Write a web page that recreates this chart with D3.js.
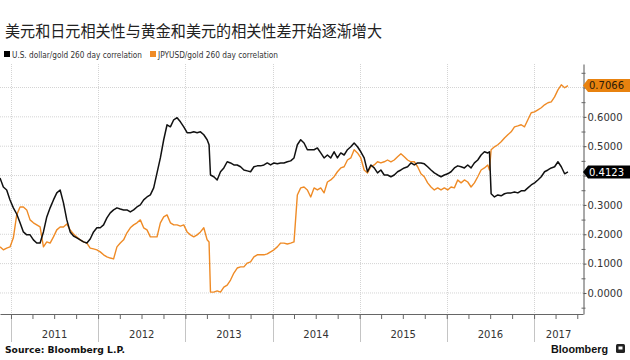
<!DOCTYPE html>
<html><head><meta charset="utf-8">
<script src="https://cdn.jsdelivr.net/npm/d3@7"></script>
<style>body{margin:0;background:#fff}svg{display:block}</style>
</head><body><svg id="c" width="630" height="360"></svg>
<script>
const chartTitle = "美元和日元相关性与黄金和美元的相关性差开始逐渐增大";
const seriesNames = ["U.S. dollar/gold 260 day correlation", "JPYUSD/gold 260 day correlation"];
const sourceText = "Source: Bloomberg L.P.";
const brandText = "Bloomberg";
const yTicks = [0, 0.1, 0.2, 0.3, 0.4, 0.5, 0.6, 0.7];
const yMinorTicks = [-0.05, 0.05, 0.15, 0.25, 0.35, 0.45, 0.55, 0.65, 0.75];
const yearLabels = ["2011", "2012", "2013", "2014", "2015", "2016", "2017"];
const xRange = ["2010-11-16", "2017-07-25"];
const yRange = [-0.0716, 0.78];

const dates = [
"2010-11-16","2010-11-30","2010-12-14","2010-12-28",
"2011-01-11","2011-01-25","2011-02-08","2011-02-22","2011-03-08","2011-03-22","2011-04-05","2011-04-19","2011-05-03","2011-05-17","2011-05-31","2011-06-14","2011-06-28","2011-07-12","2011-07-26","2011-08-09","2011-08-23","2011-09-06","2011-09-20","2011-10-04","2011-10-18","2011-11-01","2011-11-15","2011-11-29","2011-12-13","2011-12-27",
"2012-01-10","2012-01-24","2012-02-07","2012-02-21","2012-03-06","2012-03-20","2012-04-03","2012-04-17","2012-05-01","2012-05-15","2012-05-29","2012-06-12","2012-06-26","2012-07-10","2012-07-24","2012-08-07","2012-08-21","2012-09-04","2012-09-18","2012-10-02","2012-10-16","2012-10-30","2012-11-13","2012-11-27","2012-12-11","2012-12-25",
"2013-01-08","2013-01-22","2013-02-05","2013-02-19","2013-03-05","2013-03-19","2013-04-02","2013-04-10","2013-04-16","2013-04-30","2013-05-14","2013-05-28","2013-06-11","2013-06-25","2013-07-09","2013-07-23","2013-08-06","2013-08-20","2013-09-03","2013-09-17","2013-10-01","2013-10-15","2013-10-29","2013-11-12","2013-11-26","2013-12-10","2013-12-24",
"2014-01-07","2014-01-21","2014-02-04","2014-02-18","2014-03-04","2014-03-18","2014-04-01","2014-04-15","2014-04-29","2014-05-13","2014-05-27","2014-06-10","2014-06-24","2014-07-08","2014-07-22","2014-08-05","2014-08-19","2014-09-02","2014-09-16","2014-09-30","2014-10-14","2014-10-28","2014-11-11","2014-11-25","2014-12-09","2014-12-23",
"2015-01-06","2015-01-20","2015-02-03","2015-02-17","2015-03-03","2015-03-17","2015-03-31","2015-04-14","2015-04-28","2015-05-12","2015-05-26","2015-06-09","2015-06-23","2015-07-07","2015-07-21","2015-08-04","2015-08-18","2015-09-01","2015-09-15","2015-09-29","2015-10-13","2015-10-27","2015-11-10","2015-11-24","2015-12-08","2015-12-22",
"2016-01-05","2016-01-19","2016-02-02","2016-02-16","2016-03-01","2016-03-15","2016-03-29","2016-04-12","2016-04-26","2016-05-10","2016-05-24","2016-06-07","2016-06-21","2016-06-28","2016-07-05","2016-07-19","2016-08-02","2016-08-16","2016-08-30","2016-09-13","2016-09-27","2016-10-11","2016-10-25","2016-11-08","2016-11-22","2016-12-06","2016-12-20",
"2017-01-03","2017-01-17","2017-01-31","2017-02-14","2017-02-28","2017-03-14","2017-03-28","2017-04-11","2017-04-25","2017-05-09","2017-05-23"
];

const usdGold = [
0.392,0.361,0.351,0.317,
0.290,0.269,0.239,0.208,0.198,0.198,0.181,0.170,0.170,0.208,0.259,0.290,0.317,0.341,0.351,0.307,0.249,0.208,0.194,0.188,0.181,0.174,0.170,0.184,0.208,0.222,
0.222,0.232,0.256,0.273,0.283,0.290,0.286,0.283,0.283,0.276,0.283,0.293,0.300,0.317,0.327,0.334,0.358,0.409,0.460,0.522,0.573,0.566,0.590,0.597,0.583,0.566,
0.546,0.546,0.549,0.546,0.549,0.539,0.522,0.505,0.402,0.396,0.385,0.413,0.426,0.447,0.443,0.436,0.436,0.430,0.419,0.416,0.413,0.430,0.433,0.433,0.436,0.443,0.436,
0.443,0.440,0.443,0.443,0.447,0.450,0.460,0.505,0.522,0.511,0.488,0.488,0.488,0.494,0.477,0.460,0.470,0.460,0.481,0.460,0.477,0.470,0.488,0.498,0.511,0.498,
0.481,0.460,0.413,0.436,0.426,0.409,0.419,0.402,0.402,0.396,0.402,0.413,0.419,0.426,0.430,0.443,0.436,0.443,0.443,0.440,0.430,0.419,0.409,0.402,0.396,0.402,
0.406,0.413,0.426,0.433,0.430,0.426,0.436,0.426,0.443,0.453,0.470,0.481,0.477,0.481,0.338,0.327,0.334,0.331,0.338,0.341,0.341,0.344,0.341,0.348,0.348,0.358,0.368,
0.375,0.385,0.396,0.413,0.419,0.426,0.430,0.447,0.430,0.406,0.4123
];

const jpyGold = [
0.157,0.147,0.153,0.157,
0.188,0.266,0.293,0.293,0.283,0.249,0.239,0.232,0.225,0.157,0.174,0.170,0.191,0.215,0.225,0.225,0.235,0.215,0.201,0.191,0.181,0.174,0.170,0.153,0.150,0.147,
0.140,0.130,0.123,0.119,0.116,0.157,0.170,0.181,0.205,0.222,0.232,0.239,0.249,0.222,0.215,0.191,0.191,0.191,0.239,0.259,0.266,0.239,0.232,0.232,0.228,0.232,
0.208,0.198,0.191,0.198,0.208,0.222,0.181,0.174,0.003,0.003,0.007,0.003,0.020,0.027,0.044,0.068,0.085,0.089,0.089,0.102,0.106,0.123,0.130,0.130,0.130,0.133,0.140,
0.147,0.157,0.170,0.170,0.167,0.170,0.174,0.334,0.358,0.361,0.351,0.327,0.358,0.351,0.358,0.341,0.378,0.385,0.396,0.413,0.426,0.430,0.453,0.460,0.488,0.477,
0.460,0.419,0.409,0.430,0.436,0.447,0.443,0.447,0.453,0.447,0.453,0.464,0.474,0.464,0.453,0.447,0.447,0.430,0.406,0.396,0.375,0.361,0.351,0.358,0.351,0.358,
0.351,0.361,0.358,0.385,0.375,0.385,0.378,0.361,0.375,0.396,0.419,0.426,0.436,0.419,0.488,0.498,0.505,0.515,0.528,0.539,0.549,0.566,0.569,0.573,0.566,0.590,0.614,
0.617,0.624,0.631,0.641,0.648,0.651,0.668,0.692,0.709,0.699,0.7066
];

const COLORS = { usd: "#111111", jpy: "#ef8b26", jpyBox: "#e8820f" };
const parse = d3.timeParse("%Y-%m-%d");
const svg = d3.select("#c");
const L = 0, R = 583, T = 64, B = 314;
const x = d3.scaleTime().domain(xRange.map(parse)).range([L, R]);
const y = d3.scaleLinear().domain(yRange).range([B, T]);
const numFont = "'DejaVu Sans', Verdana, sans-serif";
const lastJ = jpyGold[jpyGold.length - 1], lastU = usdGold[usdGold.length - 1];

// horizontal gridlines
svg.append("g").selectAll("line").data(yTicks).join("line")
  .attr("x1", L).attr("x2", R).attr("y1", d => y(d)).attr("y2", d => y(d))
  .attr("stroke", "#d4d4d4").attr("stroke-width", 1).attr("stroke-dasharray", "1,1");

// vertical year gridlines
const yearStarts = yearLabels.map(s => parse(s + "-01-01"));
svg.append("g").selectAll("line").data(yearStarts).join("line")
  .attr("x1", d => Math.round(x(d)) + 0.5).attr("x2", d => Math.round(x(d)) + 0.5)
  .attr("y1", T).attr("y2", B)
  .attr("stroke", "#d4d4d4").attr("stroke-dasharray", "1,1");
svg.append("g").selectAll("line").data(yearStarts).join("line")
  .attr("x1", d => Math.round(x(d)) + 0.5).attr("x2", d => Math.round(x(d)) + 0.5)
  .attr("y1", B).attr("y2", 342)
  .attr("stroke", "#c4c4c4").attr("stroke-width", 1);

// x axis (quarterly ticks)
const xAxis = svg.append("g").attr("transform", `translate(0,${B})`)
  .call(d3.axisBottom(x).ticks(d3.timeMonth.every(3)).tickSize(5).tickSizeOuter(0).tickFormat(""));
xAxis.selectAll("path,line").attr("stroke", "#666");

// year labels
const xEnd = x.domain()[1];
svg.append("g").selectAll("text").data(yearLabels).join("text")
  .attr("x", (d, i) => {
    const s = yearStarts[i];
    const e = d3.min([parse((+d + 1) + "-01-01"), xEnd]);
    return (x(s) + x(e)) / 2;
  })
  .attr("y", 338).attr("text-anchor", "middle")
  .attr("font-family", numFont).attr("font-size", 10).attr("fill", "#333")
  .text(d => d);

// right axis (labels hidden where the last-value tags sit, as in the original)
const covered = v => Math.abs(y(v) - y(lastJ)) < 9 || Math.abs(y(v) - y(lastU)) < 9;
const yAxis = svg.append("g").attr("transform", `translate(${R + 0.5},0)`)
  .call(d3.axisRight(y).tickValues(yTicks).tickSize(3).tickSizeOuter(0).tickPadding(1)
    .tickFormat(d => covered(d) ? "" : d3.format(".4f")(d)));
yAxis.selectAll("path,line").attr("stroke", "#555");
yAxis.selectAll("text").attr("font-family", numFont).attr("font-size", 10).attr("fill", "#333");
const yMinor = svg.append("g").attr("transform", `translate(${R - 1.5},0)`)
  .call(d3.axisRight(y).tickValues(yMinorTicks).tickSize(4).tickFormat(""));
yMinor.select(".domain").remove();
yMinor.selectAll("line").attr("stroke", "#666");

// series lines
const rows = dates.map((d, i) => ({ date: parse(d), usd: usdGold[i], jpy: jpyGold[i] }));
const lineJ = d3.line().x(d => x(d.date)).y(d => y(d.jpy));
const lineU = d3.line().x(d => x(d.date)).y(d => y(d.usd));
svg.append("path").datum(rows).attr("d", lineJ).attr("fill", "none")
  .attr("stroke", COLORS.jpy).attr("stroke-width", 1.4).attr("stroke-linejoin", "round");
svg.append("path").datum(rows).attr("d", lineU).attr("fill", "none")
  .attr("stroke", COLORS.usd).attr("stroke-width", 1.5).attr("stroke-linejoin", "round");

// last value tags
function tag(v, fill, textFill) {
  const cy = y(v);
  const g = svg.append("g");
  g.append("path")
    .attr("d", `M${R},${cy} L${R + 5},${cy - 6.5} L630,${cy - 6.5} L630,${cy + 6.5} L${R + 5},${cy + 6.5} Z`)
    .attr("fill", fill);
  g.append("text").attr("x", R + 6).attr("y", cy).attr("dy", "0.36em")
    .attr("font-family", numFont).attr("font-size", 10).attr("fill", textFill)
    .text(d3.format(".4f")(v));
}
tag(lastJ, COLORS.jpyBox, "#2a1a08");
tag(lastU, "#000", "#fff");

// title
svg.append("text").attr("x", 5).attr("y", 37)
  .attr("font-family", "'Noto Sans CJK SC', sans-serif").attr("font-size", 16).attr("fill", "#222")
  .attr("textLength", 377).attr("lengthAdjust", "spacingAndGlyphs")
  .text(chartTitle);

// legend
const legend = [
  { name: seriesNames[0], color: "#000", x: 4, w: 130 },
  { name: seriesNames[1], color: COLORS.jpy, x: 150, w: 120 }
];
const lg = svg.append("g").selectAll("g").data(legend).join("g");
lg.append("rect").attr("x", d => d.x).attr("y", 51).attr("width", 6).attr("height", 6).attr("fill", d => d.color);
lg.append("text").attr("x", d => d.x + 8).attr("y", 57.5)
  .attr("font-family", "'Liberation Sans Narrow','DejaVu Sans Condensed','Liberation Sans',sans-serif")
  .attr("font-size", 9.5).attr("fill", "#333")
  .attr("textLength", d => d.w).attr("lengthAdjust", "spacingAndGlyphs")
  .text(d => d.name);

// source & brand
svg.append("text").attr("x", 5).attr("y", 353)
  .attr("font-family", numFont).attr("font-weight", "bold").attr("font-size", 9).attr("fill", "#111")
  .attr("textLength", 120).attr("lengthAdjust", "spacingAndGlyphs").text(sourceText);
svg.append("text").attr("x", 551).attr("y", 353)
  .attr("font-family", "'Liberation Sans', Arial, sans-serif").attr("font-weight", "bold").attr("font-size", 11.5).attr("fill", "#111")
  .attr("textLength", 57).attr("lengthAdjust", "spacingAndGlyphs").text(brandText);
svg.append("rect").attr("x", 616).attr("y", 344).attr("width", 9).attr("height", 9).attr("rx", 1.5).attr("fill", "#222");
svg.append("rect").attr("x", 618.5).attr("y", 346.5).attr("width", 4).attr("height", 3).attr("fill", "#fff");
</script></body></html>
